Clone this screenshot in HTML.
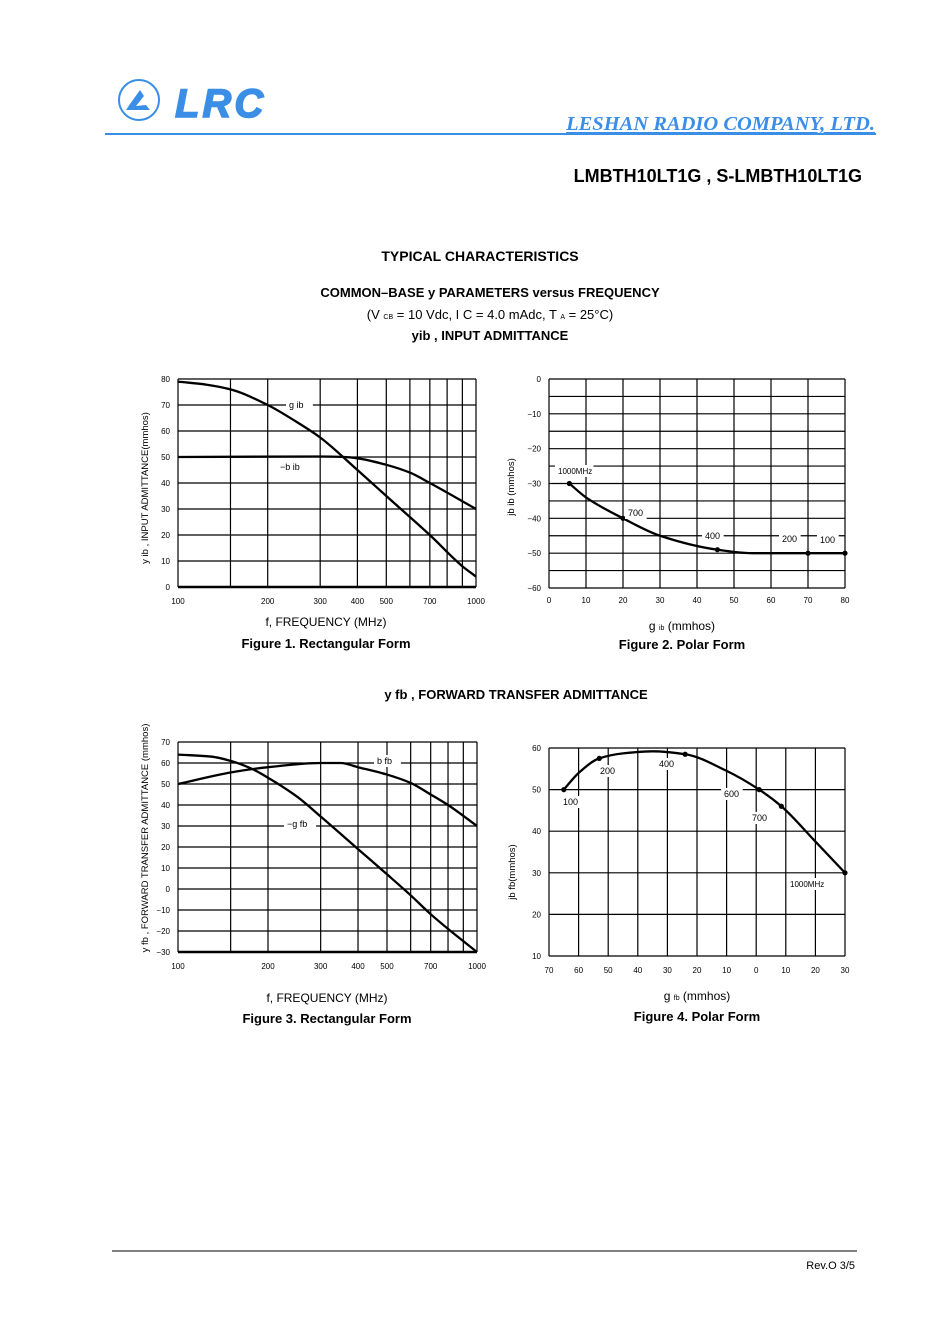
<!DOCTYPE html>
<html><head><meta charset="utf-8"><style>
body{margin:0;background:#fff}
svg{display:block;font-family:"Liberation Sans",Arial,sans-serif}
</style></head><body>
<svg id="s" width="948" height="1341" viewBox="0 0 948 1341" xmlns="http://www.w3.org/2000/svg">
<g>
<circle cx="139" cy="100" r="20" fill="none" stroke="#3a8ee6" stroke-width="2"/>
<path d="M126 110 L150 110 L146 105 L136 106 L144 96 L140 90 L130 104 Z" fill="#3a8ee6"/>
<text x="175" y="117" font-size="40" font-weight="bold" font-style="italic" fill="#3a8ee6" letter-spacing="3" stroke="#3a8ee6" stroke-width="1.5">LRC</text>
</g>
<line x1="105" y1="134" x2="876" y2="134" stroke="#3a8ee6" stroke-width="2"/>
<text x="875" y="130" text-anchor="end" font-family="Liberation Serif,serif" font-style="italic" font-weight="bold" font-size="20.5" fill="#3a8ee6" text-decoration="underline">LESHAN RADIO COMPANY, LTD.</text>
<text x="862" y="182" text-anchor="end" font-weight="bold" font-size="18">LMBTH10LT1G , S-LMBTH10LT1G</text>
<text x="480" y="261" text-anchor="middle" font-weight="bold" font-size="14">TYPICAL CHARACTERISTICS</text>
<text x="490" y="297" text-anchor="middle" font-weight="bold" font-size="13">COMMON–BASE y PARAMETERS versus FREQUENCY</text>
<text x="490" y="319" text-anchor="middle" font-size="13">(V <tspan font-size="7">CB</tspan> = 10 Vdc, I C = 4.0 mAdc, T <tspan font-size="7">A</tspan> = 25°C)</text>
<text x="490" y="340" text-anchor="middle" font-weight="bold" font-size="13">yib , INPUT ADMITTANCE</text>
<text x="516" y="699" text-anchor="middle" font-weight="bold" font-size="13">y fb , FORWARD TRANSFER ADMITTANCE</text>
<text x="326" y="626" text-anchor="middle" font-size="12">f, FREQUENCY (MHz)</text>
<text x="326" y="648" text-anchor="middle" font-weight="bold" font-size="13">Figure 1. Rectangular Form</text>
<text x="682" y="630" text-anchor="middle" font-size="12">g <tspan font-size="7">ib</tspan> (mmhos)</text>
<text x="682" y="649" text-anchor="middle" font-weight="bold" font-size="13">Figure 2. Polar Form</text>
<text x="327" y="1002" text-anchor="middle" font-size="12">f, FREQUENCY (MHz)</text>
<text x="327" y="1023" text-anchor="middle" font-weight="bold" font-size="13">Figure 3. Rectangular Form</text>
<text x="697" y="1000" text-anchor="middle" font-size="12">g <tspan font-size="7">fb</tspan> (mmhos)</text>
<text x="697" y="1021" text-anchor="middle" font-weight="bold" font-size="13">Figure 4. Polar Form</text>
<text transform="translate(148,488) rotate(-90)" text-anchor="middle" font-size="9.5">y ib , INPUT ADMITTANCE(mmhos)</text>
<text transform="translate(514,487) rotate(-90)" text-anchor="middle" font-size="9.5">jb ib (mmhos)</text>
<text transform="translate(148,838) rotate(-90)" text-anchor="middle" font-size="9.5">y fb , FORWARD TRANSFER ADMITTANCE (mmhos)</text>
<text transform="translate(515,872) rotate(-90)" text-anchor="middle" font-size="9.5">jb fb(mmhos)</text>
<line x1="112" y1="1251" x2="857" y2="1251" stroke="#000" stroke-width="1"/>
<text x="855" y="1269" text-anchor="end" font-size="11">Rev.O  3/5</text>
<g id="charts"></g>
</svg>
<script>
// Figure 1 data
const f1Freq=[100,125,150,200,250,300,400,500,700,900,1000];
const f1Gib=[79,77.8,76,70,63.5,57.5,45,35,20,8,4];
const f1BFreq=[100,300,360,400,500,600,700,1000];
const f1Bib=[50,50.2,50,49.5,47,44,40,30];
// Figure 2 data
const f2G=[5.5,10,20,30,45.5,55,70,80];
const f2B=[-30,-34,-40,-45,-49,-50,-50,-50];
const f2PtG=[5.5,20,45.5,70,80];
const f2PtB=[-30,-40,-49,-50,-50];
// Figure 3 data
const f3BFreq=[100,150,200,300,350,400,500,600,700,800,1000];
const f3Bfb=[50,55.5,58,60,60,58,54.5,50.5,45,40,30];
const f3GFreq=[100,130,150,175,200,250,300,400,500,600,700,800,1000];
const f3Gfb=[64,63,61,57.5,53,44,34.5,19,7,-3,-12,-19,-30];
// Figure 4 data
const f4G=[-65,-60,-53,-45,-35,-24,-10,1,8.5,20,30];
const f4B=[50,54,57.5,58.7,59.2,58.5,54.5,50,46,37.5,30];
const f4PtG=[-65,-53,-24,1,8.5,30];
const f4PtB=[50,57.5,58.5,50,46,30];
const logGrid=[100,150,200,300,400,500,600,700,800,900,1000];
const logTicks=[100,200,300,400,500,700,1000];

const NS='http://www.w3.org/2000/svg';
const root=document.getElementById('charts');
function mk(tag,attrs,parent){const e=document.createElementNS(NS,tag);for(const k in attrs)e.setAttribute(k,attrs[k]);(parent||root).appendChild(e);return e;}
function logX(x0,x1){return v=>x0+(Math.log10(v)-2)*(x1-x0);}
function linS(d0,d1,r0,r1){return v=>r0+(v-d0)/(d1-d0)*(r1-r0);}
function smooth(pts){const n=pts.length;const dx=[],m=[],t=[];
for(let i=0;i<n-1;i++){dx[i]=pts[i+1][0]-pts[i][0];m[i]=(pts[i+1][1]-pts[i][1])/dx[i];}
t[0]=m[0];t[n-1]=m[n-2];
for(let i=1;i<n-1;i++){if(m[i-1]*m[i]<=0)t[i]=0;else{const w1=2*dx[i]+dx[i-1],w2=dx[i]+2*dx[i-1];t[i]=(w1+w2)/(w1/m[i-1]+w2/m[i]);}}
let d='M'+pts[0][0]+' '+pts[0][1];
for(let i=0;i<n-1;i++){const h=dx[i]/3;d+=' C'+(pts[i][0]+h)+' '+(pts[i][1]+t[i]*h)+' '+(pts[i+1][0]-h)+' '+(pts[i+1][1]-t[i+1]*h)+' '+pts[i+1][0]+' '+pts[i+1][1];}
return d;}
function curve(g,xs,ys,sx,sy,name){const p=mk('path',{d:smooth(xs.map((x,i)=>[sx(x),sy(ys[i])])),fill:'none',stroke:'#000','stroke-width':2.3},g);

}
function label(g,x,y,t,name,sz){mk('rect',{x:x-3,y:y-9,width:t.length*(sz||10)*0.58+6,height:12,fill:'#fff'},g);const e=mk('text',{x:x,y:y,'font-size':sz||10},g);e.textContent=t;

}
function frame(name){const g=mk('g',{});


return g;}
function hgrid(g,sy,vals,x0,x1,ticks){vals.forEach(v=>{mk('line',{x1:x0,x2:x1,y1:sy(v),y2:sy(v),stroke:'#000','stroke-width':1.2},g);});
ticks.forEach(v=>{const t=mk('text',{x:x0-8,y:sy(v)+3,'font-size':8,'text-anchor':'end'},g);t.textContent=String(v).replace('-','−');

});}
function vgrid(g,sx,vals,y0,y1){vals.forEach(v=>mk('line',{x1:sx(v),x2:sx(v),y1:y0,y2:y1,stroke:'#000','stroke-width':1.2},g));}
function xticks(g,sx,vals,y,fmt){vals.forEach(v=>{const t=mk('text',{x:sx(v),y:y,'font-size':8,'text-anchor':'middle'},g);t.textContent=fmt?fmt(v):v;

});}
function dots(g,xs,ys,sx,sy){xs.forEach((x,i)=>{const c=mk('circle',{cx:sx(x),cy:sy(ys[i]),r:2.6,fill:'#000'},g);

});}
const range=(a,b,s)=>{const r=[];for(let v=a;s>0?v<=b+1e-9:v>=b-1e-9;v+=s)r.push(v);return r;};

// Fig 1
{const x0=178,x1=476,y0=379,y1=587;const sx=logX(x0,x1),sy=linS(0,80,y1,y0);const g=frame('fig1-chart');
vgrid(g,sx,logGrid,y0,y1);hgrid(g,sy,range(0,80,10),x0,x1,range(0,80,10));
mk('line',{x1:x0,x2:x1,y1:y1,y2:y1,stroke:'#000','stroke-width':2.5},g);
xticks(g,sx,logTicks,y1+17);
curve(g,f1Freq,f1Gib,sx,sy,'gib-curve');curve(g,f1BFreq,f1Bib,sx,sy,'neg-bib-curve');
label(g,289,408,'g ib','gib-label',9);label(g,280,470,'−b ib','neg-bib-label',9);}
// Fig 2
{const x0=549,x1=845,y0=379,y1=588;const sx=linS(0,80,x0,x1),sy=linS(0,-60,y0,y1);const g=frame('fig2-chart');
vgrid(g,sx,range(0,80,10),y0,y1);hgrid(g,sy,range(0,-60,-5),x0,x1,range(0,-60,-10));
xticks(g,sx,range(0,80,10),y1+15);
curve(g,f2G,f2B,sx,sy,'yib-polar-curve');dots(g,f2PtG,f2PtB,sx,sy);
label(g,558,474,'1000MHz','label-1000mhz',8);label(g,628,516,'700','label-700',9);label(g,705,539,'400','label-400',9);label(g,782,542,'200','label-200',9);label(g,820,543,'100','label-100',9);}
// Fig 3
{const x0=178,x1=477,y0=742,y1=952;const sx=logX(x0,x1),sy=linS(-30,70,y1,y0);const g=frame('fig3-chart');
vgrid(g,sx,logGrid,y0,y1);hgrid(g,sy,range(-30,70,10),x0,x1,range(-30,70,10));
mk('line',{x1:x0,x2:x1,y1:y1,y2:y1,stroke:'#000','stroke-width':2.5},g);
xticks(g,sx,logTicks,y1+17);
curve(g,f3BFreq,f3Bfb,sx,sy,'bfb-curve');curve(g,f3GFreq,f3Gfb,sx,sy,'neg-gfb-curve');
label(g,377,764,'b fb','bfb-label',9);label(g,287,827,'−g fb','neg-gfb-label',9);}
// Fig 4
{const x0=549,x1=845,y0=748,y1=956;const sx=linS(-70,30,x0,x1),sy=linS(10,60,y1,y0);const g=frame('fig4-chart');
vgrid(g,sx,range(-70,30,10),y0,y1);hgrid(g,sy,range(10,60,10),x0,x1,range(10,60,10));
xticks(g,sx,range(-70,30,10),y1+17,v=>Math.abs(v));
curve(g,f4G,f4B,sx,sy,'yfb-polar-curve');dots(g,f4PtG,f4PtB,sx,sy);
label(g,563,805,'100','label-100',9);label(g,600,774,'200','label-200',9);label(g,659,767,'400','label-400',9);label(g,724,797,'600','label-600',9);label(g,752,821,'700','label-700',9);label(g,790,887,'1000MHz','label-1000mhz',8);}
</script>
</body></html>
